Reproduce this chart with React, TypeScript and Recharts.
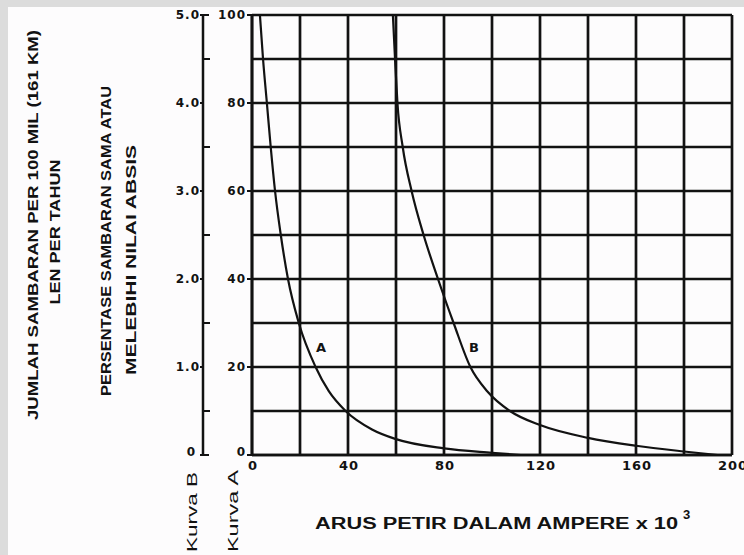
import { LineChart, Line, XAxis, YAxis, CartesianGrid, ReferenceDot } from "recharts";

// Kurva A: persentase sambaran >= arus (sumbu 0-100)
const curveAX = [3.3, 4.6, 6.2, 7.8, 9.6, 12, 15, 19.5, 26.5, 32, 39, 50, 60, 80, 100, 112];
const curveAY = [100, 90, 80, 70, 60, 50, 40, 30, 20, 14.5, 10, 5.8, 3.6, 1.5, 0.5, 0];
// Kurva B: jumlah sambaran per 100 mil per tahun (sumbu 0-5.0)
const curveBX = [58.7, 59.6, 60.6, 62.8, 66.5, 71.5, 77.5, 84, 91, 98, 107.5, 120, 140, 160, 180, 194];
const curveBY = [5, 4.5, 4, 3.5, 3, 2.5, 2, 1.5, 1, 0.725, 0.5, 0.34, 0.195, 0.105, 0.04, 0];

const xTicks = [0, 20, 40, 60, 80, 100, 120, 140, 160, 180, 200];
const pctTicks = [0, 10, 20, 30, 40, 50, 60, 70, 80, 90, 100];
const strikeTicks = [0, 0.5, 1, 1.5, 2, 2.5, 3, 3.5, 4, 4.5, 5];

const labelA = { name: "A", x: 28.8, y: 24.5 };
const labelB = { name: "B", x: 92.5, y: 1.225 };

const curveA = curveAX.map((x, i) => ({ x, y: curveAY[i] }));
const curveB = curveBX.map((x, i) => ({ x, y: curveBY[i] }));

const INK = "#121212";
const tickFont = { fontFamily: "DejaVu Sans, sans-serif", fontWeight: 700, fontSize: 12, letterSpacing: 1 };

function StrikeTick(props: any) {
  const { x, y, payload } = props;
  const v = payload.value;
  const lineX = x + 3;
  if (v % 1 !== 0) {
    return <line x1={lineX} x2={lineX + 7} y1={y} y2={y} stroke={INK} strokeWidth={2} />;
  }
  const edge = v === 0 || v === 5;
  return (
    <g>
      <line x1={lineX - 3} x2={lineX} y1={y} y2={y} stroke={INK} strokeWidth={2} />
      {edge && <line x1={lineX} x2={lineX + 6} y1={y} y2={y} stroke={INK} strokeWidth={2} />}
      <text x={v === 0 ? x - 4 : x} y={y} dy={v === 0 ? 1 : 4} textAnchor="end" fill={INK} {...tickFont}>
        {v === 0 ? "0" : v.toFixed(1)}
      </text>
    </g>
  );
}

function PctTick(props: any) {
  const { x, y, payload } = props;
  const v = payload.value;
  if (v % 20 !== 0) return <g />;
  return (
    <g>
      <line x1={x + 3} x2={x + 8} y1={y} y2={y} stroke={INK} strokeWidth={2} />
      <text x={x + 2} y={y} dy={v === 0 ? 1 : 4} textAnchor="end" fill={INK} {...tickFont}>
        {v}
      </text>
    </g>
  );
}

function XTick(props: any) {
  const { x, y, payload } = props;
  const v = payload.value;
  if (v % 40 !== 0) return <g />;
  return (
    <text x={x + 1} y={y} dy={9} textAnchor="middle" fill={INK} {...tickFont} fontSize={13}>
      {v}
    </text>
  );
}

const titleFont = { fontFamily: "Liberation Sans, Arial, sans-serif", fontWeight: 700, fill: INK };

function Vert({ x, cy, len, children, size }: any) {
  return (
    <text
      x={x}
      y={cy}
      transform={`rotate(-90 ${x} ${cy})`}
      textAnchor="middle"
      dominantBaseline="central"
      textLength={len}
      lengthAdjust="spacingAndGlyphs"
      {...titleFont}
      fontSize={size}
    >
      {children}
    </text>
  );
}

export default function App() {
  return (
    <div style={{ position: "absolute", left: 0, top: 0, width: 744, height: 555, background: "#fdfcfd", overflow: "hidden" }}>
      <div style={{ position: "absolute", left: 0, top: 0, width: 744, height: 7, background: "#dcdcdc" }} />
      <div style={{ position: "absolute", left: 0, top: 0, width: 8, height: 555, background: "#dcdcdc" }} />
      <div style={{ position: "absolute", left: 0, top: 0 }}>
        <LineChart width={744} height={555} margin={{ top: 15, right: 12, bottom: 70, left: 0 }}>
          <CartesianGrid yAxisId="pct" stroke={INK} strokeWidth={2.7} />
          <XAxis
            dataKey="x"
            type="number"
            domain={[0, 200]}
            ticks={xTicks}
            height={30}
            tick={<XTick />}
            tickLine={false}
            tickSize={4}
            axisLine={{ stroke: INK, strokeWidth: 2.7 }}
            allowDataOverflow
          />
          <YAxis
            yAxisId="pct"
            type="number"
            domain={[0, 100]}
            ticks={pctTicks}
            width={49}
            tick={<PctTick />}
            tickLine={false}
            tickSize={5}
            tickMargin={3}
            axisLine={{ stroke: INK, strokeWidth: 2.7 }}
            interval={0}
            allowDataOverflow
          />
          <YAxis
            yAxisId="strikes"
            type="number"
            domain={[0, 5]}
            ticks={strikeTicks}
            width={203}
            tick={<StrikeTick />}
            tickLine={false}
            tickSize={2}
            tickMargin={1}
            axisLine={{ stroke: INK, strokeWidth: 2.5 }}
            interval={0}
            allowDataOverflow
          />
          <Line yAxisId="pct" data={curveA} dataKey="y" type="monotone" dot={false} stroke={INK} strokeWidth={2.2} isAnimationActive={false} />
          <Line yAxisId="strikes" data={curveB} dataKey="y" type="monotone" dot={false} stroke={INK} strokeWidth={2.2} isAnimationActive={false} />
          <ReferenceDot
            yAxisId="pct"
            x={labelA.x}
            y={labelA.y}
            r={1}
            fill="none"
            stroke="none"
            label={{ value: labelA.name, position: "center", fill: INK, fontSize: 13, fontWeight: 700, fontFamily: "DejaVu Sans, sans-serif" }}
          />
          <ReferenceDot
            yAxisId="strikes"
            x={labelB.x}
            y={labelB.y}
            r={1}
            fill="none"
            stroke="none"
            label={{ value: labelB.name, position: "center", fill: INK, fontSize: 13, fontWeight: 700, fontFamily: "DejaVu Sans, sans-serif" }}
          />
        </LineChart>
      </div>
      <svg width={744} height={555} style={{ position: "absolute", left: 0, top: 0, pointerEvents: "none" }}>
        <Vert x={32} cy={225} len={390} size={15}>JUMLAH SAMBARAN PER 100 MIL (161 KM)</Vert>
        <Vert x={55} cy={232} len={145} size={14}>LEN PER TAHUN</Vert>
        <Vert x={105} cy={241} len={310} size={15}>PERSENTASE SAMBARAN SAMA ATAU</Vert>
        <Vert x={131} cy={260} len={230} size={14}>MELEBIHI NILAI ABSIS</Vert>
        <text x={191} y={552} transform="rotate(-90 191 552)" dominantBaseline="central" textLength={80} lengthAdjust="spacingAndGlyphs" fontFamily="Liberation Sans, Arial, sans-serif" fill={INK} fontSize={15}>
          Kurva B
        </text>
        <text x={232} y={552} transform="rotate(-90 232 552)" dominantBaseline="central" textLength={82} lengthAdjust="spacingAndGlyphs" fontFamily="Liberation Sans, Arial, sans-serif" fill={INK} fontSize={15}>
          Kurva A
        </text>
        <text x={315} y={529} textLength={363} lengthAdjust="spacingAndGlyphs" {...titleFont} fontSize={16}>
          ARUS PETIR DALAM AMPERE x 10
        </text>
        <text x={683} y={519} {...titleFont} fontSize={13}>3</text>
      </svg>
    </div>
  );
}
